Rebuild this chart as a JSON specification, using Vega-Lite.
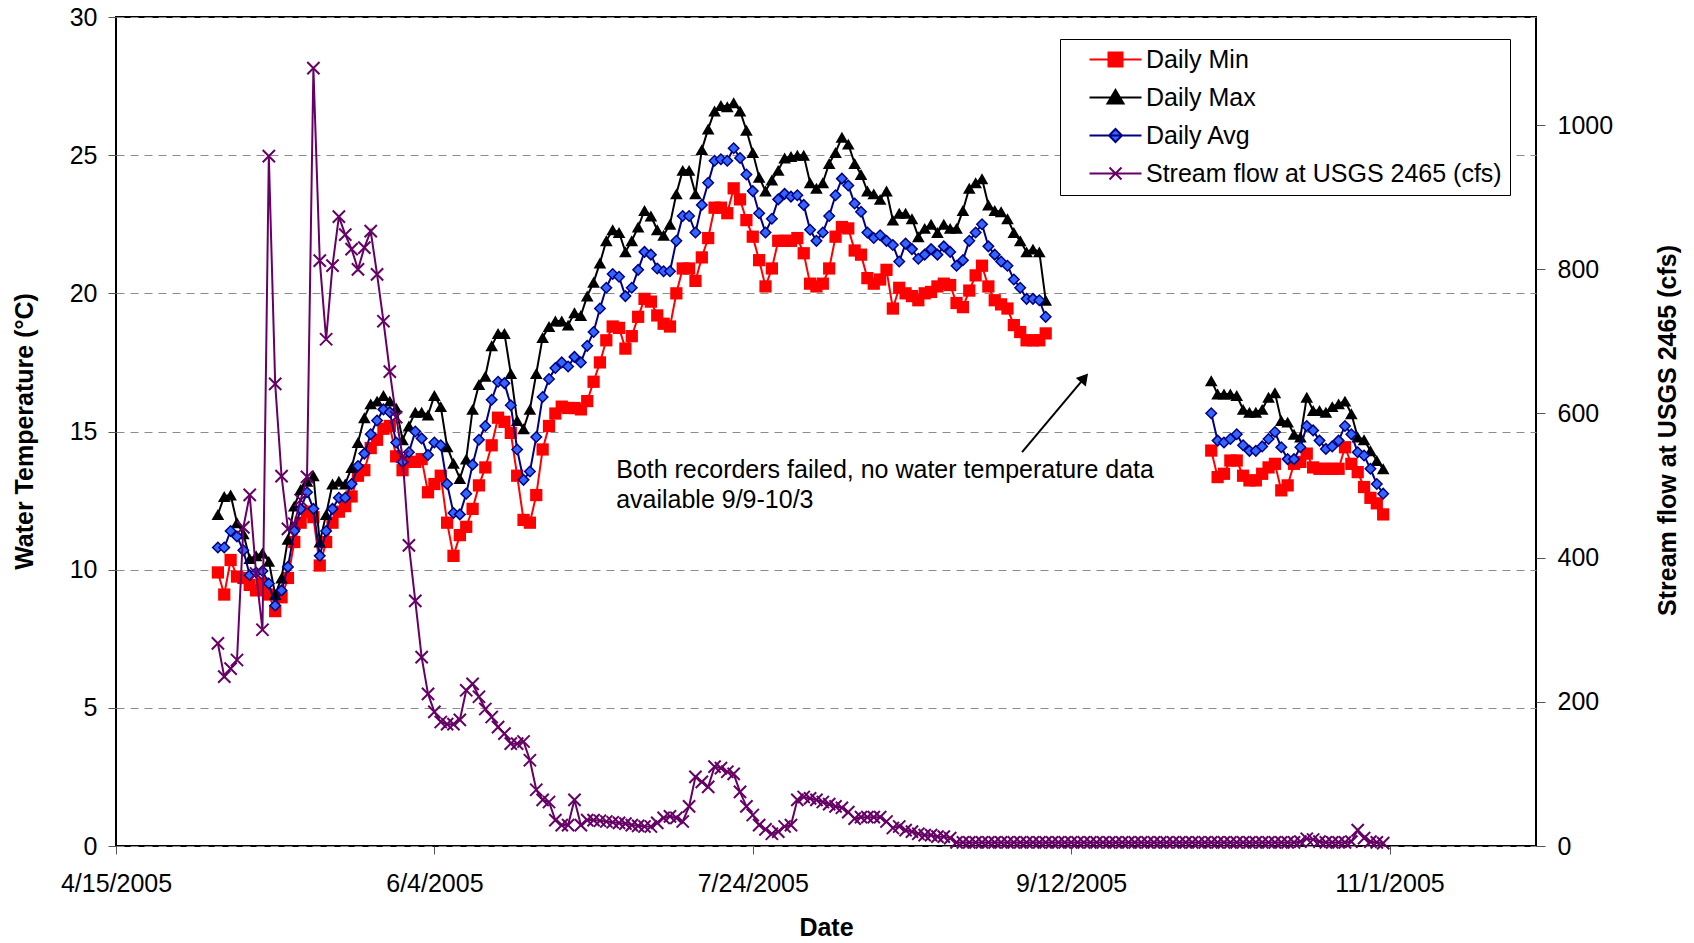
{
  "$schema": "https://vega.github.io/schema/vega-lite/v6.json",
  "width": 1420,
  "height": 829,
  "autosize": {"type": "none"},
  "padding": {"left": 116, "top": 17, "right": 158, "bottom": 97},
  "background": "white",
  "config": {
    "font": "Liberation Sans",
    "view": {"stroke": "#000", "strokeWidth": 2},
    "axis": {
      "labelFont": "Liberation Sans", "labelFontSize": 25, "labelColor": "#000",
      "titleFont": "Liberation Sans", "titleFontSize": 25, "titleFontWeight": "bold", "titleColor": "#000",
      "domain": false, "tickColor": "#555", "tickSize": 8, "tickWidth": 1
    },
    "legend": {"labelExpr": "datum.label + '      '"}
  },
  "datasets": {
    "daily": [
      {"date":"2005-05-01","min":9.9,"max":12.0,"avg":10.8,"flow":281},
      {"date":"2005-05-02","min":9.1,"max":12.65,"avg":10.8,"flow":235},
      {"date":"2005-05-03","min":10.35,"max":12.7,"avg":11.4,"flow":246},
      {"date":"2005-05-04","min":9.75,"max":11.7,"avg":11.2,"flow":258},
      {"date":"2005-05-05","min":9.7,"max":11.3,"avg":10.7,"flow":442},
      {"date":"2005-05-06","min":9.45,"max":10.4,"avg":9.8,"flow":487},
      {"date":"2005-05-07","min":9.25,"max":10.5,"avg":9.9,"flow":378},
      {"date":"2005-05-08","min":9.5,"max":10.6,"avg":9.95,"flow":300},
      {"date":"2005-05-09","min":9.1,"max":10.3,"avg":9.5,"flow":957},
      {"date":"2005-05-10","min":8.5,"max":9.1,"avg":8.7,"flow":641},
      {"date":"2005-05-11","min":9.0,"max":9.7,"avg":9.25,"flow":513},
      {"date":"2005-05-12","min":9.7,"max":11.1,"avg":10.1,"flow":440},
      {"date":"2005-05-13","min":11.0,"max":12.3,"avg":11.4,"flow":447},
      {"date":"2005-05-14","min":11.7,"max":12.9,"avg":12.2,"flow":480},
      {"date":"2005-05-15","min":12.1,"max":13.2,"avg":12.8,"flow":512},
      {"date":"2005-05-16","min":11.9,"max":13.4,"avg":12.2,"flow":1079},
      {"date":"2005-05-17","min":10.15,"max":11.0,"avg":10.5,"flow":812},
      {"date":"2005-05-18","min":11.0,"max":12.0,"avg":11.4,"flow":703},
      {"date":"2005-05-19","min":11.7,"max":13.1,"avg":12.2,"flow":805},
      {"date":"2005-05-20","min":12.1,"max":13.2,"avg":12.6,"flow":873},
      {"date":"2005-05-21","min":12.3,"max":13.1,"avg":12.6,"flow":848},
      {"date":"2005-05-22","min":12.65,"max":13.7,"avg":13.1,"flow":828},
      {"date":"2005-05-23","min":13.4,"max":14.6,"avg":13.75,"flow":800},
      {"date":"2005-05-24","min":13.6,"max":15.5,"avg":14.2,"flow":830},
      {"date":"2005-05-25","min":14.4,"max":16.0,"avg":14.9,"flow":853},
      {"date":"2005-05-26","min":14.7,"max":16.1,"avg":15.4,"flow":793},
      {"date":"2005-05-27","min":15.1,"max":16.3,"avg":15.8,"flow":728},
      {"date":"2005-05-28","min":15.2,"max":16.1,"avg":15.7,"flow":658},
      {"date":"2005-05-29","min":14.1,"max":15.85,"avg":14.6,"flow":595},
      {"date":"2005-05-30","min":13.6,"max":14.7,"avg":13.9,"flow":540},
      {"date":"2005-05-31","min":13.9,"max":15.2,"avg":14.25,"flow":417},
      {"date":"2005-06-01","min":13.9,"max":15.7,"avg":15.0,"flow":340},
      {"date":"2005-06-02","min":14.0,"max":15.7,"avg":14.75,"flow":262},
      {"date":"2005-06-03","min":12.8,"max":15.6,"avg":14.15,"flow":211},
      {"date":"2005-06-04","min":13.1,"max":16.3,"avg":14.6,"flow":186},
      {"date":"2005-06-05","min":13.4,"max":15.9,"avg":14.5,"flow":172},
      {"date":"2005-06-06","min":11.7,"max":14.45,"avg":13.1,"flow":169},
      {"date":"2005-06-07","min":10.5,"max":13.85,"avg":12.05,"flow":169},
      {"date":"2005-06-08","min":11.25,"max":13.3,"avg":12.0,"flow":175},
      {"date":"2005-06-09","min":11.55,"max":14.0,"avg":12.75,"flow":216},
      {"date":"2005-06-10","min":12.2,"max":15.8,"avg":13.8,"flow":225},
      {"date":"2005-06-11","min":13.05,"max":16.7,"avg":14.7,"flow":207},
      {"date":"2005-06-12","min":13.7,"max":17.0,"avg":15.2,"flow":190},
      {"date":"2005-06-13","min":14.5,"max":18.1,"avg":16.15,"flow":179},
      {"date":"2005-06-14","min":15.5,"max":18.55,"avg":16.8,"flow":165},
      {"date":"2005-06-15","min":15.35,"max":18.55,"avg":16.75,"flow":156},
      {"date":"2005-06-16","min":14.95,"max":17.1,"avg":15.95,"flow":142},
      {"date":"2005-06-17","min":13.4,"max":15.4,"avg":14.35,"flow":142},
      {"date":"2005-06-18","min":11.8,"max":15.1,"avg":13.25,"flow":145},
      {"date":"2005-06-19","min":11.7,"max":15.8,"avg":13.55,"flow":119},
      {"date":"2005-06-20","min":12.7,"max":17.1,"avg":14.8,"flow":78},
      {"date":"2005-06-21","min":14.35,"max":18.4,"avg":16.25,"flow":64},
      {"date":"2005-06-22","min":15.2,"max":18.8,"avg":16.9,"flow":61},
      {"date":"2005-06-23","min":15.65,"max":19.0,"avg":17.3,"flow":36},
      {"date":"2005-06-24","min":15.9,"max":19.0,"avg":17.5,"flow":29},
      {"date":"2005-06-25","min":15.85,"max":18.85,"avg":17.35,"flow":29},
      {"date":"2005-06-26","min":15.85,"max":19.3,"avg":17.7,"flow":64},
      {"date":"2005-06-27","min":15.8,"max":19.2,"avg":17.5,"flow":29},
      {"date":"2005-06-28","min":16.1,"max":19.9,"avg":18.1,"flow":36},
      {"date":"2005-06-29","min":16.8,"max":20.4,"avg":18.6,"flow":36},
      {"date":"2005-06-30","min":17.5,"max":21.1,"avg":19.45,"flow":35},
      {"date":"2005-07-01","min":18.3,"max":21.9,"avg":20.2,"flow":34},
      {"date":"2005-07-02","min":18.8,"max":22.3,"avg":20.7,"flow":33},
      {"date":"2005-07-03","min":18.75,"max":22.2,"avg":20.6,"flow":32},
      {"date":"2005-07-04","min":18.0,"max":21.5,"avg":19.9,"flow":31},
      {"date":"2005-07-05","min":18.45,"max":21.9,"avg":20.2,"flow":29},
      {"date":"2005-07-06","min":19.15,"max":22.4,"avg":20.85,"flow":28},
      {"date":"2005-07-07","min":19.8,"max":23.0,"avg":21.5,"flow":27},
      {"date":"2005-07-08","min":19.7,"max":22.8,"avg":21.4,"flow":27},
      {"date":"2005-07-09","min":19.2,"max":22.3,"avg":20.9,"flow":32},
      {"date":"2005-07-10","min":18.9,"max":22.1,"avg":20.8,"flow":39},
      {"date":"2005-07-11","min":18.8,"max":22.5,"avg":20.8,"flow":41},
      {"date":"2005-07-12","min":20.0,"max":23.6,"avg":21.9,"flow":39},
      {"date":"2005-07-13","min":20.9,"max":24.45,"avg":22.8,"flow":34},
      {"date":"2005-07-14","min":20.9,"max":24.45,"avg":22.8,"flow":55},
      {"date":"2005-07-15","min":20.45,"max":23.6,"avg":22.2,"flow":96},
      {"date":"2005-07-16","min":21.3,"max":25.2,"avg":23.2,"flow":89},
      {"date":"2005-07-17","min":22.0,"max":25.95,"avg":24.0,"flow":82},
      {"date":"2005-07-18","min":23.1,"max":26.6,"avg":24.8,"flow":110},
      {"date":"2005-07-19","min":23.1,"max":26.8,"avg":24.85,"flow":108},
      {"date":"2005-07-20","min":22.9,"max":26.75,"avg":24.8,"flow":103},
      {"date":"2005-07-21","min":23.8,"max":26.9,"avg":25.25,"flow":100},
      {"date":"2005-07-22","min":23.4,"max":26.6,"avg":24.9,"flow":75},
      {"date":"2005-07-23","min":22.65,"max":25.9,"avg":24.3,"flow":55},
      {"date":"2005-07-24","min":22.05,"max":25.1,"avg":23.7,"flow":43},
      {"date":"2005-07-25","min":21.2,"max":24.2,"avg":22.9,"flow":29},
      {"date":"2005-07-26","min":20.25,"max":23.7,"avg":22.2,"flow":23},
      {"date":"2005-07-27","min":20.9,"max":24.1,"avg":22.7,"flow":17},
      {"date":"2005-07-28","min":21.9,"max":24.45,"avg":23.4,"flow":20},
      {"date":"2005-07-29","min":21.9,"max":24.9,"avg":23.6,"flow":27},
      {"date":"2005-07-30","min":21.9,"max":24.95,"avg":23.5,"flow":29},
      {"date":"2005-07-31","min":22.0,"max":25.0,"avg":23.55,"flow":64},
      {"date":"2005-08-01","min":21.45,"max":25.0,"avg":23.2,"flow":68},
      {"date":"2005-08-02","min":20.35,"max":24.0,"avg":22.3,"flow":66},
      {"date":"2005-08-03","min":20.25,"max":23.8,"avg":21.9,"flow":64},
      {"date":"2005-08-04","min":20.35,"max":24.0,"avg":22.2,"flow":61},
      {"date":"2005-08-05","min":20.9,"max":24.7,"avg":22.8,"flow":58},
      {"date":"2005-08-06","min":22.05,"max":25.1,"avg":23.55,"flow":55},
      {"date":"2005-08-07","min":22.4,"max":25.65,"avg":24.15,"flow":53},
      {"date":"2005-08-08","min":22.35,"max":25.4,"avg":23.9,"flow":47},
      {"date":"2005-08-09","min":21.55,"max":24.7,"avg":23.25,"flow":38},
      {"date":"2005-08-10","min":21.4,"max":24.3,"avg":22.95,"flow":40},
      {"date":"2005-08-11","min":20.55,"max":23.7,"avg":22.2,"flow":40},
      {"date":"2005-08-12","min":20.35,"max":23.6,"avg":22.0,"flow":40},
      {"date":"2005-08-13","min":20.5,"max":23.4,"avg":22.1,"flow":40},
      {"date":"2005-08-14","min":20.85,"max":23.7,"avg":21.9,"flow":34},
      {"date":"2005-08-15","min":19.45,"max":22.65,"avg":21.75,"flow":25},
      {"date":"2005-08-16","min":20.2,"max":22.9,"avg":21.15,"flow":27},
      {"date":"2005-08-17","min":20.0,"max":22.9,"avg":21.8,"flow":22},
      {"date":"2005-08-18","min":19.9,"max":22.7,"avg":21.6,"flow":20},
      {"date":"2005-08-19","min":19.75,"max":22.05,"avg":21.25,"flow":17},
      {"date":"2005-08-20","min":20.0,"max":22.35,"avg":21.4,"flow":15},
      {"date":"2005-08-21","min":20.05,"max":22.5,"avg":21.6,"flow":15},
      {"date":"2005-08-22","min":20.25,"max":22.2,"avg":21.4,"flow":13},
      {"date":"2005-08-23","min":20.35,"max":22.5,"avg":21.7,"flow":13},
      {"date":"2005-08-24","min":20.3,"max":22.35,"avg":21.5,"flow":11},
      {"date":"2005-08-25","min":19.65,"max":22.35,"avg":21.0,"flow":5},
      {"date":"2005-08-26","min":19.5,"max":23.0,"avg":21.2,"flow":5},
      {"date":"2005-08-27","min":20.1,"max":23.8,"avg":21.9,"flow":5},
      {"date":"2005-08-28","min":20.65,"max":24.0,"avg":22.2,"flow":5},
      {"date":"2005-08-29","min":21.0,"max":24.15,"avg":22.5,"flow":5},
      {"date":"2005-08-30","min":20.25,"max":23.2,"avg":21.7,"flow":5},
      {"date":"2005-08-31","min":19.75,"max":23.0,"avg":21.4,"flow":5},
      {"date":"2005-09-01","min":19.6,"max":22.95,"avg":21.15,"flow":5},
      {"date":"2005-09-02","min":19.45,"max":22.7,"avg":21.0,"flow":5},
      {"date":"2005-09-03","min":18.85,"max":22.2,"avg":20.5,"flow":5},
      {"date":"2005-09-04","min":18.6,"max":21.9,"avg":20.2,"flow":5},
      {"date":"2005-09-05","min":18.3,"max":21.5,"avg":19.8,"flow":5},
      {"date":"2005-09-06","min":18.3,"max":21.6,"avg":19.8,"flow":5},
      {"date":"2005-09-07","min":18.3,"max":21.5,"avg":19.75,"flow":5},
      {"date":"2005-09-08","min":18.55,"max":19.75,"avg":19.15,"flow":5},
      {"date":"2005-09-09","min":null,"max":null,"avg":null,"flow":5},
      {"date":"2005-09-10","min":null,"max":null,"avg":null,"flow":5},
      {"date":"2005-09-11","min":null,"max":null,"avg":null,"flow":5},
      {"date":"2005-09-12","min":null,"max":null,"avg":null,"flow":5},
      {"date":"2005-09-13","min":null,"max":null,"avg":null,"flow":5},
      {"date":"2005-09-14","min":null,"max":null,"avg":null,"flow":5},
      {"date":"2005-09-15","min":null,"max":null,"avg":null,"flow":5},
      {"date":"2005-09-16","min":null,"max":null,"avg":null,"flow":5},
      {"date":"2005-09-17","min":null,"max":null,"avg":null,"flow":5},
      {"date":"2005-09-18","min":null,"max":null,"avg":null,"flow":5},
      {"date":"2005-09-19","min":null,"max":null,"avg":null,"flow":5},
      {"date":"2005-09-20","min":null,"max":null,"avg":null,"flow":5},
      {"date":"2005-09-21","min":null,"max":null,"avg":null,"flow":5},
      {"date":"2005-09-22","min":null,"max":null,"avg":null,"flow":5},
      {"date":"2005-09-23","min":null,"max":null,"avg":null,"flow":5},
      {"date":"2005-09-24","min":null,"max":null,"avg":null,"flow":5},
      {"date":"2005-09-25","min":null,"max":null,"avg":null,"flow":5},
      {"date":"2005-09-26","min":null,"max":null,"avg":null,"flow":5},
      {"date":"2005-09-27","min":null,"max":null,"avg":null,"flow":5},
      {"date":"2005-09-28","min":null,"max":null,"avg":null,"flow":5},
      {"date":"2005-09-29","min":null,"max":null,"avg":null,"flow":5},
      {"date":"2005-09-30","min":null,"max":null,"avg":null,"flow":5},
      {"date":"2005-10-01","min":null,"max":null,"avg":null,"flow":5},
      {"date":"2005-10-02","min":null,"max":null,"avg":null,"flow":5},
      {"date":"2005-10-03","min":null,"max":null,"avg":null,"flow":5},
      {"date":"2005-10-04","min":14.31,"max":16.84,"avg":15.66,"flow":5},
      {"date":"2005-10-05","min":13.35,"max":16.36,"avg":14.67,"flow":5},
      {"date":"2005-10-06","min":13.47,"max":16.36,"avg":14.6,"flow":5},
      {"date":"2005-10-07","min":13.95,"max":16.36,"avg":14.73,"flow":5},
      {"date":"2005-10-08","min":13.95,"max":16.3,"avg":14.9,"flow":5},
      {"date":"2005-10-09","min":13.4,"max":15.8,"avg":14.5,"flow":5},
      {"date":"2005-10-10","min":13.23,"max":15.7,"avg":14.3,"flow":5},
      {"date":"2005-10-11","min":13.23,"max":15.7,"avg":14.3,"flow":5},
      {"date":"2005-10-12","min":13.47,"max":15.8,"avg":14.46,"flow":5},
      {"date":"2005-10-13","min":13.7,"max":16.24,"avg":14.73,"flow":5},
      {"date":"2005-10-14","min":13.83,"max":16.4,"avg":14.98,"flow":5},
      {"date":"2005-10-15","min":12.87,"max":15.4,"avg":14.43,"flow":5},
      {"date":"2005-10-16","min":13.05,"max":15.34,"avg":14.0,"flow":5},
      {"date":"2005-10-17","min":13.83,"max":14.9,"avg":14.0,"flow":5},
      {"date":"2005-10-18","min":13.9,"max":14.8,"avg":14.43,"flow":6},
      {"date":"2005-10-19","min":14.2,"max":16.24,"avg":15.2,"flow":10},
      {"date":"2005-10-20","min":13.7,"max":15.76,"avg":15.04,"flow":9},
      {"date":"2005-10-21","min":13.65,"max":15.76,"avg":14.67,"flow":6},
      {"date":"2005-10-22","min":13.65,"max":15.7,"avg":14.37,"flow":5},
      {"date":"2005-10-23","min":13.65,"max":15.9,"avg":14.46,"flow":5},
      {"date":"2005-10-24","min":13.65,"max":16.0,"avg":14.67,"flow":5},
      {"date":"2005-10-25","min":14.43,"max":16.1,"avg":15.2,"flow":5},
      {"date":"2005-10-26","min":13.83,"max":15.64,"avg":14.9,"flow":6},
      {"date":"2005-10-27","min":13.53,"max":14.8,"avg":14.25,"flow":22},
      {"date":"2005-10-28","min":12.99,"max":14.7,"avg":14.13,"flow":11},
      {"date":"2005-10-29","min":12.6,"max":14.3,"avg":13.65,"flow":6},
      {"date":"2005-10-30","min":12.4,"max":13.95,"avg":13.1,"flow":5},
      {"date":"2005-10-31","min":12.0,"max":13.65,"avg":12.75,"flow":4}
    ],
    "note": [{"date": "2005-07-02T13:00:00Z", "t": 13.3}],
    "arrow": [{"d1": "2005-09-04T07:00:00Z", "t1": 14.25, "d2": "2005-09-14T02:00:00Z", "t2": 16.94}],
    "series": [
      {"series": "Daily Min"},
      {"series": "Daily Max"},
      {"series": "Daily Avg"},
      {"series": "Stream flow at USGS 2465 (cfs)"}
    ]
  },
  "layer": [
    {
      "layer": [
        {
          "data": {"name": "daily"},
          "mark": {"type": "line", "color": "#ff0000", "strokeWidth": 2},
          "encoding": {
            "x": {"field": "date", "type": "temporal", "scale": {"type": "utc", "domain": [1113523200000, 1132790400000], "nice": false},
              "axis": {"values": [1113523200000, 1117843200000, 1122163200000, 1126483200000, 1130803200000],
                "labelExpr": "utcFormat(datum.value, '%-m/%-d/%Y')", "title": "Date", "grid": false,
                "tickSize": 8, "labelPadding": 17, "titleX": 710, "titleY": 81, "titleBaseline": "middle", "titleAlign": "center", "labelFlush": false, "labelOverlap": false}},
            "y": {"field": "min", "type": "quantitative", "scale": {"domain": [0, 30], "nice": false},
              "axis": {"values": [0, 5, 10, 15, 20, 25, 30], "title": "Water Temperature (°C)", "grid": true,
                "gridColor": "#8c8c8c", "gridDash": [8, 6], "gridWidth": 1, "tickSize": 8, "labelPadding": 11,
                "titleX": -92, "titleY": 414, "titleAngle": 270, "titleAlign": "center", "titleBaseline": "middle"}}
          }
        },
        {
          "data": {"name": "daily"},
          "mark": {"type": "point", "shape": "square", "filled": true, "color": "#ff0000", "opacity": 1, "size": 150},
          "encoding": {
            "x": {"field": "date", "type": "temporal"},
            "y": {"field": "min", "type": "quantitative"}
          }
        },
        {
          "data": {"name": "daily"},
          "mark": {"type": "line", "color": "#000000", "strokeWidth": 2},
          "encoding": {
            "x": {"field": "date", "type": "temporal"},
            "y": {"field": "max", "type": "quantitative"}
          }
        },
        {
          "data": {"name": "daily"},
          "mark": {"type": "point", "shape": "triangle-up", "filled": true, "color": "#000000", "opacity": 1, "size": 160},
          "encoding": {
            "x": {"field": "date", "type": "temporal"},
            "y": {"field": "max", "type": "quantitative"}
          }
        },
        {
          "data": {"name": "daily"},
          "mark": {"type": "line", "color": "#000080", "strokeWidth": 2},
          "encoding": {
            "x": {"field": "date", "type": "temporal"},
            "y": {"field": "avg", "type": "quantitative"}
          }
        },
        {
          "data": {"name": "daily"},
          "mark": {"type": "point", "shape": "diamond", "filled": true, "fill": "#3366ff", "stroke": "#000080", "strokeWidth": 1.5, "opacity": 1, "size": 110},
          "encoding": {
            "x": {"field": "date", "type": "temporal"},
            "y": {"field": "avg", "type": "quantitative"}
          }
        },
        {
          "data": {"name": "note"},
          "mark": {"type": "text", "text": ["Both recorders failed, no water temperature data", "available 9/9-10/3"], "align": "left", "baseline": "alphabetic", "fontSize": 25, "lineHeight": 30, "color": "#000", "font": "Liberation Sans"},
          "encoding": {
            "x": {"field": "date", "type": "temporal"},
            "y": {"field": "t", "type": "quantitative"}
          }
        },
        {
          "data": {"name": "arrow"},
          "mark": {"type": "rule", "color": "#000", "strokeWidth": 2},
          "encoding": {
            "x": {"field": "d1", "type": "temporal"},
            "y": {"field": "t1", "type": "quantitative"},
            "x2": {"field": "d2"},
            "y2": {"field": "t2"}
          }
        },
        {
          "data": {"name": "arrow"},
          "mark": {"type": "point", "shape": "triangle-up", "filled": true, "color": "#000", "opacity": 1, "size": 170, "angle": 40},
          "encoding": {
            "x": {"field": "d2", "type": "temporal"},
            "y": {"field": "t2", "type": "quantitative"}
          }
        },
        {
          "data": {"name": "series"},
          "transform": [{"filter": "false"}],
          "mark": {"type": "point", "filled": true, "opacity": 1},
          "encoding": {
            "shape": {"field": "series", "type": "nominal",
              "scale": {"domain": ["Daily Min", "Daily Max", "Daily Avg", "Stream flow at USGS 2465 (cfs)"],
                "range": ["M-2.6,0H2.6M-0.7,-0.7H0.7V0.7H-0.7Z", "M-2.6,0H2.6M0,-0.75L0.8,0.6H-0.8Z", "M-2.6,0H2.6M0,-0.65L0.65,0L0,0.65L-0.65,0Z", "M-2.6,0H2.6M-0.6,-0.6L0.6,0.6M-0.6,0.6L0.6,-0.6"]},
              "legend": {"orient": "none", "legendX": 944, "legendY": 22, "title": null, "padding": 8, "rowPadding": 12, "strokeColor": "#000", "fillColor": "#fff", "labelFontSize": 25, "labelFont": "Liberation Sans", "labelColor": "#000", "symbolSize": 400, "symbolStrokeWidth": 2, "symbolOffset": 35, "labelOffset": 18, "labelLimit": 0}},
            "fill": {"field": "series", "type": "nominal",
              "scale": {"domain": ["Daily Min", "Daily Max", "Daily Avg", "Stream flow at USGS 2465 (cfs)"],
                "range": ["#ff0000", "#000000", "#3366ff", "transparent"]},
              "legend": {"orient": "none", "legendX": 944, "legendY": 22, "title": null, "padding": 8, "rowPadding": 12, "strokeColor": "#000", "fillColor": "#fff", "labelFontSize": 25, "labelFont": "Liberation Sans", "labelColor": "#000", "symbolSize": 400, "symbolStrokeWidth": 2, "symbolOffset": 35, "labelOffset": 18, "labelLimit": 0}},
            "stroke": {"field": "series", "type": "nominal",
              "scale": {"domain": ["Daily Min", "Daily Max", "Daily Avg", "Stream flow at USGS 2465 (cfs)"],
                "range": ["#ff0000", "#000000", "#000080", "#660066"]},
              "legend": {"orient": "none", "legendX": 944, "legendY": 22, "title": null, "padding": 8, "rowPadding": 12, "strokeColor": "#000", "fillColor": "#fff", "labelFontSize": 25, "labelFont": "Liberation Sans", "labelColor": "#000", "symbolSize": 400, "symbolStrokeWidth": 2, "symbolOffset": 35, "labelOffset": 18, "labelLimit": 0}}
          }
        }
      ]
    },
    {
      "data": {"name": "daily"},
      "layer": [
        {
          "mark": {"type": "line", "color": "#660066", "strokeWidth": 2},
          "encoding": {
            "x": {"field": "date", "type": "temporal"},
            "y": {"field": "flow", "type": "quantitative", "scale": {"domain": [0, 1150], "nice": false},
              "axis": {"orient": "right", "values": [0, 200, 400, 600, 800, 1000], "format": "d", "title": "Stream flow at USGS 2465 (cfs)", "grid": false,
                "tickSize": 9, "labelPadding": 12, "titleX": 131, "titleY": 413, "titleAngle": 270, "titleAlign": "center", "titleBaseline": "middle"}}
          }
        },
        {
          "mark": {"type": "point", "shape": "M-1,-1L1,1M-1,1L1,-1", "filled": false, "stroke": "#660066", "strokeWidth": 2, "opacity": 1, "size": 150},
          "encoding": {
            "x": {"field": "date", "type": "temporal"},
            "y": {"field": "flow", "type": "quantitative"}
          }
        }
      ]
    }
  ],
  "resolve": {"scale": {"y": "independent"}}
}
